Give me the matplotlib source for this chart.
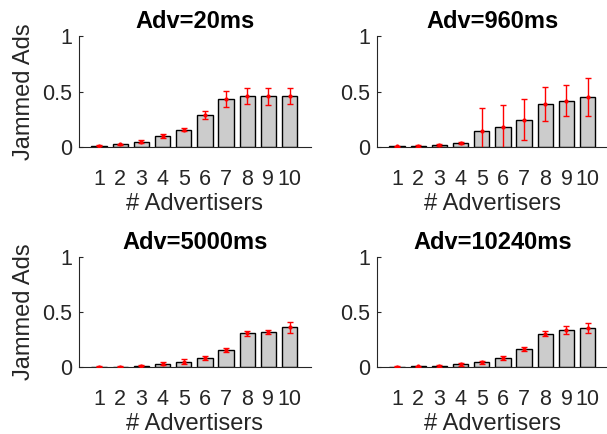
import numpy as np
import matplotlib
matplotlib.use('Agg')
import matplotlib.pyplot as plt

plt.rcParams['font.family'] = ['Liberation Sans', 'DejaVu Sans']

# number of advertisers on the x axis
advertisers = np.arange(1, 11)
titles = ['Adv=20ms', 'Adv=960ms', 'Adv=5000ms', 'Adv=10240ms']

# mean share of jammed ads
jam_20 = [0.012, 0.024, 0.048, 0.102, 0.157, 0.286, 0.437, 0.458, 0.458, 0.461]
jam_960 = [0.006, 0.012, 0.021, 0.039, 0.148, 0.178, 0.247, 0.386, 0.419, 0.452]
jam_5000 = [0.006, 0.006, 0.015, 0.033, 0.051, 0.084, 0.157, 0.307, 0.319, 0.361]
jam_10240 = [0.003, 0.009, 0.012, 0.027, 0.045, 0.081, 0.163, 0.304, 0.337, 0.352]

# half length of the red error bars
err_20 = [0.006, 0.006, 0.012, 0.017, 0.015, 0.036, 0.072, 0.072, 0.075, 0.075]
err_960 = [0.008, 0.008, 0.010, 0.010, 0.208, 0.199, 0.184, 0.151, 0.142, 0.169]
err_5000 = [0.006, 0.006, 0.008, 0.015, 0.020, 0.020, 0.020, 0.020, 0.018, 0.048]
err_10240 = [0.006, 0.006, 0.008, 0.012, 0.012, 0.018, 0.020, 0.024, 0.033, 0.045]

means = [jam_20, jam_960, jam_5000, jam_10240]
errs = [err_20, err_960, err_5000, err_10240]

fig = plt.figure(figsize=(6.07, 4.34), dpi=100)
# axes rectangles in figure fractions [left, bottom, width, height]
rects = [[0.130, 0.661, 0.382, 0.256],
         [0.621, 0.661, 0.382, 0.256],
         [0.130, 0.154, 0.382, 0.254],
         [0.621, 0.154, 0.382, 0.254]]

for i in range(4):
  ax = fig.add_axes(rects[i])
  ax.bar(advertisers, means[i], width=0.72, color='#cccccc', edgecolor='black', linewidth=1.0, zorder=2)
  ax.errorbar(advertisers, means[i], yerr=errs[i], fmt='.', color='red', ecolor='red',
              markersize=4, elinewidth=1.0, capsize=2, capthick=1.0, zorder=3)
  ax.set_xlim(0.05, 11.0)
  ax.set_ylim(0, 1)
  ax.set_yticks([0, 0.5, 1])
  ax.set_yticklabels(['0', '0.5', '1'])
  ax.set_xticks(advertisers)
  ax.set_xticklabels([str(a) for a in advertisers])
  ax.tick_params(direction='in', length=3, labelsize=15.5, colors='#262626', pad=5)
  ax.tick_params(axis='x', length=0, pad=16)
  for s in ['top', 'right']:
    ax.spines[s].set_visible(False)
  for s in ['left', 'bottom']:
    ax.spines[s].set_color('#262626')
    ax.spines[s].set_linewidth(0.8)
  ax.set_title(titles[i], fontsize=17, fontweight='bold', pad=6)
  ax.set_xlabel('# Advertisers', fontsize=17, color='#262626', labelpad=2)
  if i % 2 == 0:
    ax.set_ylabel('Jammed Ads', fontsize=17, color='#262626', labelpad=5)

fig.savefig('out.png', dpi=100)
